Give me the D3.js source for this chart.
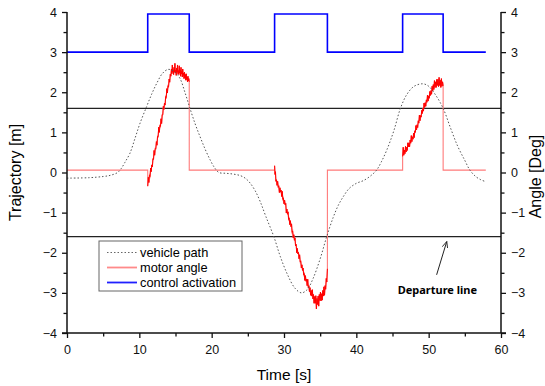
<!DOCTYPE html>
<html>
<head>
<meta charset="utf-8">
<script src="https://cdn.jsdelivr.net/npm/d3@7"></script>
<style>
  body { margin: 0; background: #fff; }
  svg { display: block; font-family: "Liberation Sans", Arial, sans-serif; }
</style>
</head>
<body>
<svg id="chart" width="545" height="386"></svg>
<script>
// vehicle path (dotted), time [s] / trajectory [m]
const pathT = [0, 3, 5, 6, 7, 7.5, 8, 8.7, 9.4, 10.1, 11, 11.7, 12.4, 13.2, 14, 14.8, 15.6, 16.3, 17, 17.7, 18.4, 19.1, 19.8, 20.4, 21, 22, 23, 24, 24.7, 25.3, 26, 26.7, 27.5, 28.6, 29.5, 30.5, 31.5, 32.4, 33.2, 34, 35, 35.9, 36.8, 37.5, 38.2, 39, 40, 41, 42, 42.8, 43.5, 44.3, 45.2, 46.1, 47, 48, 49.2, 50, 51, 52, 53, 54, 55, 55.7, 56.5, 57.2, 57.9];
const pathV = [-0.14, -0.13, -0.1, -0.07, 0.0, 0.1, 0.25, 0.48, 0.85, 1.23, 1.64, 1.95, 2.22, 2.47, 2.57, 2.52, 2.35, 2.0, 1.6, 1.22, 0.89, 0.58, 0.31, 0.12, 0.0, -0.02, -0.04, -0.08, -0.15, -0.26, -0.45, -0.72, -1.1, -1.6, -2.1, -2.55, -2.88, -3.0, -2.92, -2.65, -2.15, -1.6, -1.12, -0.82, -0.6, -0.4, -0.27, -0.2, -0.08, 0.06, 0.28, 0.6, 1.05, 1.6, 1.95, 2.15, 2.21, 2.15, 1.92, 1.6, 1.12, 0.66, 0.3, 0.06, -0.1, -0.18, -0.23];

// control activation (step)
const controlT = [0, 11.16, 16.9, 28.7, 36.0, 46.4, 52.0, 57.9];
const controlV = [3, 3.95, 3, 3.95, 3, 3.95, 3, 3];

// motor angle: idle level and the three active (noisy) stretches
const motorBase = 0.06;
const motorEnd = 57.9;
const motorSeg1 = [[11.16,-0.34],[11.24,-0.12],[11.32,-0.25],[11.4,-0.07],[11.48,-0.1],[11.56,0.11],[11.64,0.02],[11.72,0.19],[11.8,0.14],[11.88,0.34],[11.96,0.33],[12.04,0.55],[12.12,0.43],[12.2,0.6],[12.28,0.59],[12.36,0.77],[12.44,0.68],[12.52,0.9],[12.6,0.89],[12.68,1.13],[12.76,1.0],[12.84,1.17],[12.92,1.15],[13.0,1.34],[13.08,1.22],[13.16,1.44],[13.24,1.44],[13.32,1.65],[13.4,1.57],[13.48,1.73],[13.56,1.68],[13.64,1.89],[13.72,1.87],[13.8,2.09],[13.88,1.98],[13.96,2.16],[14.04,2.14],[14.12,2.33],[14.2,2.25],[14.28,2.45],[14.36,2.4],[14.44,2.58],[14.5,2.46],[14.56,2.68],[14.62,2.5],[14.68,2.56],[14.74,2.44],[14.8,2.62],[14.86,2.5],[14.92,2.72],[14.98,2.48],[15.04,2.55],[15.1,2.42],[15.16,2.6],[15.22,2.5],[15.28,2.68],[15.34,2.46],[15.4,2.54],[15.46,2.44],[15.52,2.66],[15.58,2.48],[15.64,2.56],[15.7,2.4],[15.76,2.62],[15.82,2.46],[15.88,2.52],[15.94,2.38],[16.0,2.58],[16.06,2.42],[16.12,2.48],[16.18,2.34],[16.24,2.5],[16.3,2.36],[16.36,2.44],[16.42,2.3],[16.48,2.46],[16.54,2.32],[16.6,2.38],[16.66,2.26],[16.72,2.4],[16.78,2.28],[16.84,2.34],[16.9,2.26]];
const motorSeg2 = [[28.7,0.17],[28.76,-0.05],[28.82,0.02],[28.88,-0.22],[28.96,-0.18],[29.04,-0.32],[29.12,-0.22],[29.2,-0.37],[29.28,-0.33],[29.36,-0.5],[29.44,-0.38],[29.52,-0.49],[29.6,-0.44],[29.68,-0.6],[29.76,-0.47],[29.84,-0.67],[29.92,-0.64],[30.0,-0.78],[30.08,-0.69],[30.16,-0.81],[30.24,-0.77],[30.32,-1.01],[30.4,-0.91],[30.48,-1.04],[30.56,-0.98],[30.64,-1.17],[30.72,-1.14],[30.8,-1.3],[30.88,-1.2],[30.96,-1.35],[31.04,-1.28],[31.12,-1.49],[31.2,-1.46],[31.28,-1.63],[31.36,-1.55],[31.44,-1.69],[31.52,-1.63],[31.6,-1.83],[31.68,-1.79],[31.76,-2.0],[31.84,-1.89],[31.92,-2.03],[32.0,-1.99],[32.08,-2.15],[32.16,-2.05],[32.24,-2.23],[32.32,-2.21],[32.4,-2.38],[32.48,-2.3],[32.56,-2.44],[32.64,-2.38],[32.72,-2.55],[32.8,-2.52],[32.88,-2.69],[32.96,-2.57],[33.04,-2.71],[33.12,-2.66],[33.2,-2.82],[33.28,-2.66],[33.36,-2.87],[33.44,-2.82],[33.52,-2.97],[33.6,-2.87],[33.68,-3.06],[33.76,-2.94],[33.84,-3.08],[33.92,-2.92],[34.0,-3.15],[34.08,-3.04],[34.16,-3.26],[34.24,-3.09],[34.32,-3.26],[34.4,-3.07],[34.48,-3.4],[34.56,-3.14],[34.64,-3.29],[34.72,-3.08],[34.8,-3.33],[34.88,-3.04],[34.96,-3.19],[35.04,-2.98],[35.12,-3.2],[35.2,-3.02],[35.28,-3.18],[35.36,-2.94],[35.44,-3.08],[35.52,-2.85],[35.6,-3.06],[35.68,-2.82],[35.76,-2.91],[35.84,-2.64],[35.92,-2.73],[36.0,-2.4]];
const motorSeg3 = [[46.4,0.4],[46.48,0.63],[46.56,0.43],[46.64,0.56],[46.72,0.47],[46.8,0.65],[46.88,0.51],[46.96,0.63],[47.04,0.55],[47.12,0.74],[47.2,0.64],[47.28,0.74],[47.36,0.64],[47.44,0.81],[47.52,0.73],[47.6,0.92],[47.68,0.77],[47.76,0.89],[47.84,0.83],[47.92,0.98],[48.0,0.87],[48.08,1.04],[48.16,1.0],[48.24,1.17],[48.32,1.06],[48.4,1.19],[48.48,1.12],[48.56,1.29],[48.64,1.23],[48.72,1.43],[48.8,1.29],[48.88,1.42],[48.96,1.38],[49.04,1.55],[49.12,1.47],[49.2,1.6],[49.28,1.53],[49.36,1.73],[49.44,1.62],[49.52,1.74],[49.6,1.65],[49.68,1.81],[49.76,1.75],[49.84,1.93],[49.92,1.78],[50.0,1.91],[50.08,1.85],[50.16,2.02],[50.24,1.92],[50.32,2.04],[50.4,1.95],[50.48,2.15],[50.56,2.03],[50.64,2.19],[50.72,2.07],[50.8,2.29],[50.88,2.12],[50.96,2.26],[51.04,2.12],[51.12,2.32],[51.2,2.17],[51.28,2.32],[51.36,2.14],[51.44,2.37],[51.52,2.17],[51.6,2.3],[51.68,2.12],[51.76,2.34],[51.84,2.15],[51.92,2.26],[52.0,2.16]];

const departure = [1.6, -1.6];
const yTicks = [-4, -3, -2, -1, 0, 1, 2, 3, 4];
const xTicks = [0, 10, 20, 30, 40, 50, 60];
const legendItems = ["vehicle path", "motor angle", "control activation"];

const svg = d3.select("#chart");
const x = d3.scaleLinear().domain([0, 60]).range([67, 501]);
const y = d3.scaleLinear().domain([-4, 4]).range([333, 12]);

// 🔹 data lines
const line = d3.line().x(d => x(d[0])).y(d => y(d[1]));

// departure lines
svg.selectAll(".dep")
  .data(departure)
  .enter().append("line")
  .attr("x1", x(0)).attr("x2", x(60))
  .attr("y1", d => y(d)).attr("y2", d => y(d))
  .attr("stroke", "#222")
  .attr("stroke-width", 1.2);

// control activation
const control = controlT.map((t, i) => [t, controlV[i]]);
svg.append("path")
  .datum(control)
  .attr("d", line.curve(d3.curveStepAfter))
  .attr("fill", "none")
  .attr("stroke", "#0000ff")
  .attr("stroke-width", 1.6);
line.curve(d3.curveLinear);

// motor angle: full trace light, active parts saturated
const segs = [motorSeg1, motorSeg2, motorSeg3];
const motor = [[0, motorBase]];
segs.forEach(s => {
  motor.push([s[0][0], motorBase], ...s, [s[s.length - 1][0], motorBase]);
});
motor.push([motorEnd, motorBase]);

svg.append("path")
  .datum(motor)
  .attr("d", line)
  .attr("fill", "none")
  .attr("stroke", "#ff7a7a")
  .attr("stroke-width", 1.1);

svg.selectAll(".seg")
  .data(segs)
  .enter().append("path")
  .attr("d", line)
  .attr("fill", "none")
  .attr("stroke", "#ff0000")
  .attr("stroke-width", 1);

// vehicle path
const vehicle = pathT.map((t, i) => [t, pathV[i]]);
svg.append("path")
  .datum(vehicle)
  .attr("d", d3.line().x(d => x(d[0])).y(d => y(d[1])).curve(d3.curveCatmullRom))
  .attr("fill", "none")
  .attr("stroke", "#555")
  .attr("stroke-width", 1)
  .attr("stroke-dasharray", "1.5,2");

// 🔹 axes
function styleAxis(g) {
  g.select(".domain").remove();
  g.selectAll("line").attr("stroke", "#111").attr("stroke-width", 1.3);
  g.selectAll("text").attr("fill", "#111").style("font-size", "12.5px").style("font-family", "'Liberation Sans', Arial, sans-serif");
}
const minorY = d3.range(-3.5, 4, 1);
const minorX = d3.range(5, 60, 10);

svg.append("g").attr("transform", `translate(${x(0)},0)`)
  .call(d3.axisLeft(y).tickValues(yTicks).tickSize(5).tickPadding(5).tickSizeOuter(0).tickFormat(d3.format("d")))
  .call(styleAxis);
svg.append("g").attr("transform", `translate(${x(0)},0)`)
  .call(d3.axisLeft(y).tickValues(minorY).tickSize(3.5).tickFormat(""))
  .call(styleAxis);

svg.append("g").attr("transform", `translate(${x(60)},0)`)
  .call(d3.axisRight(y).tickValues(yTicks).tickSize(5).tickPadding(5).tickSizeOuter(0).tickFormat(d3.format("d")))
  .call(styleAxis);
svg.append("g").attr("transform", `translate(${x(60)},0)`)
  .call(d3.axisRight(y).tickValues(minorY).tickSize(3.5).tickFormat(""))
  .call(styleAxis);

svg.append("g").attr("transform", `translate(0,${y(-4)})`)
  .call(d3.axisBottom(x).tickValues(xTicks).tickSize(5).tickPadding(7).tickSizeOuter(0))
  .call(styleAxis);
svg.append("g").attr("transform", `translate(0,${y(-4)})`)
  .call(d3.axisBottom(x).tickValues(minorX).tickSize(3.5).tickFormat(""))
  .call(styleAxis);

// axis lines
svg.append("line").attr("x1", x(0)).attr("x2", x(0)).attr("y1", y(4)).attr("y2", y(-4))
  .attr("stroke", "#111").attr("stroke-width", 1.5);
svg.append("line").attr("x1", x(60)).attr("x2", x(60)).attr("y1", y(4)).attr("y2", y(-4))
  .attr("stroke", "#111").attr("stroke-width", 1.5);
svg.append("line").attr("x1", x(0) - 5).attr("x2", x(60) + 5).attr("y1", y(-4)).attr("y2", y(-4))
  .attr("stroke", "#111").attr("stroke-width", 1.5);

// axis titles
svg.append("text")
  .attr("x", (x(0) + x(60)) / 2).attr("y", 380)
  .attr("text-anchor", "middle")
  .style("font-size", "15.5px")
  .text("Time [s]");

svg.append("text")
  .attr("transform", `translate(21,${y(0)}) rotate(-90)`)
  .attr("text-anchor", "middle")
  .style("font-size", "16px")
  .text("Trajectory [m]");

svg.append("text")
  .attr("transform", `translate(541,${y(-0.1)}) rotate(-90)`)
  .attr("text-anchor", "middle")
  .style("font-size", "16px")
  .text("Angle [Deg]");

// 🔹 legend
const legend = svg.append("g").attr("transform", "translate(99,241)");
legend.append("rect")
  .attr("width", 143).attr("height", 50)
  .attr("fill", "#fff")
  .attr("stroke", "#666")
  .attr("stroke-width", 1);

const legStyles = [
  { stroke: "#666", width: 1, dash: "1.5,2" },
  { stroke: "#ff8a8a", width: 1.8, dash: null },
  { stroke: "#2020ff", width: 1.8, dash: null }
];
legendItems.forEach((name, i) => {
  const row = legend.append("g").attr("transform", `translate(0,${11.5 + i * 15})`);
  row.append("line")
    .attr("x1", 8).attr("x2", 38)
    .attr("stroke", legStyles[i].stroke)
    .attr("stroke-width", legStyles[i].width)
    .attr("stroke-dasharray", legStyles[i].dash);
  row.append("text")
    .attr("x", 41).attr("y", 4.5)
    .style("font-size", "12.8px")
    .text(name);
});

// 🔹 departure annotation
svg.append("defs").append("marker")
  .attr("id", "arrow")
  .attr("viewBox", "0 0 10 10")
  .attr("refX", 9).attr("refY", 5)
  .attr("markerWidth", 7).attr("markerHeight", 7)
  .attr("orient", "auto")
  .append("path")
  .attr("d", "M0,1 L9,5 L0,9")
  .attr("fill", "none")
  .attr("stroke", "#222")
  .attr("stroke-width", 1.2);

svg.append("line")
  .attr("x1", x(51.1)).attr("y1", y(-2.55))
  .attr("x2", x(52.5)).attr("y2", y(-1.72))
  .attr("stroke", "#222")
  .attr("stroke-width", 1)
  .attr("marker-end", "url(#arrow)");

svg.append("text")
  .attr("x", x(51.2)).attr("y", y(-3.02))
  .attr("text-anchor", "middle")
  .style("font-family", "'Noto Sans', sans-serif")
  .style("font-weight", "bold")
  .style("font-size", "11px")
  .text("Departure line");
</script>
</body>
</html>
